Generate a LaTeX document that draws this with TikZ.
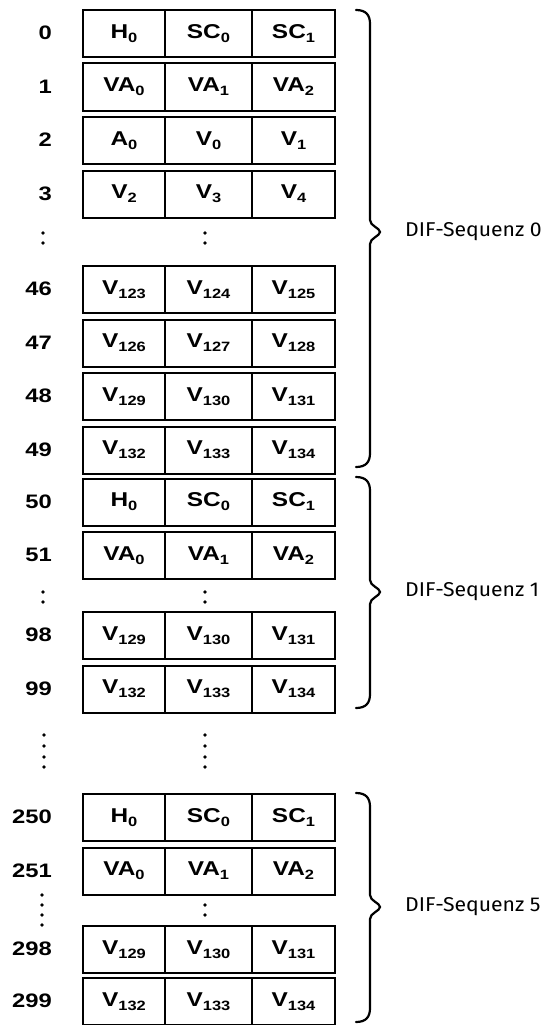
\documentclass[tikz,border=0pt]{standalone}
\usepackage{fontspec}
\newfontfamily\hb{Liberation Sans}[FakeStretch=1.22]
\newfontfamily\dinf{Fira Sans}[FakeStretch=1.06]
\newcommand\sbs[1]{\raisebox{-0.2em}{\fontsize{13.5}{13.5}\selectfont #1}}
\tikzset{
  x=1pt, y=-1pt,
  cellA/.style={draw, line width=2pt, minimum width=82pt, minimum height=47pt, inner sep=0pt, anchor=north west, font=\hb\bfseries\fontsize{20}{20}\selectfont},
  cellB/.style={cellA, minimum width=87pt},
  cellC/.style={cellA, minimum width=83pt},
  rowlbl/.style={anchor=east, inner sep=0pt, font=\hb\bfseries\fontsize{19.5}{19.5}\selectfont},
  seqlbl/.style={anchor=west, inner sep=0pt, font=\dinf\fontsize{20}{20}\selectfont},
  dotc/.style={fill, circle, inner sep=0pt, minimum size=3.8pt},
  bracepath/.style={line width=2.2pt, line cap=round}
}
\begin{document}
\begin{tikzpicture}
\useasboundingbox (0,0) rectangle (552,1025);
% rows: name/top/label/a/b/c
\foreach \n/\t/\l/\a/\b/\c in {
  r0/9/0/{H\sbs{0}}/{SC\sbs{0}}/{SC\sbs{1}},
  r1/62.5/1/{VA\sbs{0}}/{VA\sbs{1}}/{VA\sbs{2}},
  r2/116/2/{A\sbs{0}}/{V\sbs{0}}/{V\sbs{1}},
  r3/169.5/3/{V\sbs{2}}/{V\sbs{3}}/{V\sbs{4}},
  r46/265/46/{V\sbs{123}}/{V\sbs{124}}/{V\sbs{125}},
  r47/318.5/47/{V\sbs{126}}/{V\sbs{127}}/{V\sbs{128}},
  r48/372/48/{V\sbs{129}}/{V\sbs{130}}/{V\sbs{131}},
  r49/425.5/49/{V\sbs{132}}/{V\sbs{133}}/{V\sbs{134}},
  r50/477.5/50/{H\sbs{0}}/{SC\sbs{0}}/{SC\sbs{1}},
  r51/531/51/{VA\sbs{0}}/{VA\sbs{1}}/{VA\sbs{2}},
  r98/611/98/{V\sbs{129}}/{V\sbs{130}}/{V\sbs{131}},
  r99/664.5/99/{V\sbs{132}}/{V\sbs{133}}/{V\sbs{134}},
  r250/793/250/{H\sbs{0}}/{SC\sbs{0}}/{SC\sbs{1}},
  r251/846.5/251/{VA\sbs{0}}/{VA\sbs{1}}/{VA\sbs{2}},
  r298/925/298/{V\sbs{129}}/{V\sbs{130}}/{V\sbs{131}},
  r299/977/299/{V\sbs{132}}/{V\sbs{133}}/{V\sbs{134}}} {
  \node[cellA] (\n a) at (82,\t) {\a};
  \node[cellB] (\n b) at (164,\t) {\b};
  \node[cellC] (\n c) at (251,\t) {\c};
  \node[rowlbl] (\n l) at (52,\t+24) {\l};
}
% vertical dots
\foreach \i/\x/\y in {d1/43/233, d2/43/243, d3/205/233, d4/205/243,
  d5/43/592, d6/43/602, d7/205/592, d8/205/602,
  d9/44/735, d10/44/746, d11/44/757, d12/44/767,
  d13/205/735, d14/205/746, d15/205/757, d16/205/767,
  d17/42/895, d18/42/905, d19/42/915, d20/42/925,
  d21/205/905, d22/205/915}
  \node[dotc] (\i) at (\x,\y) {};
% braces
\foreach \tp/\bt/\tip in {10/467/232, 477/708/592, 793/1022/907} {
  \draw[bracepath] (356,\tp) .. controls (366,\tp) and (370,\tp+5) .. (370,\tp+14)
    -- (370,\tip-12) .. controls (370,\tip-6) and (380,\tip-4) .. (380,\tip)
    .. controls (380,\tip+4) and (370,\tip+6) .. (370,\tip+12)
    -- (370,\bt-14) .. controls (370,\bt-5) and (366,\bt) .. (356,\bt);
}
\node[seqlbl] (s0) at (405,232) {DIF-Sequenz 0};
\node[seqlbl] (s1) at (405,592) {DIF-Sequenz 1};
\node[seqlbl] (s5) at (405,907) {DIF-Sequenz 5};
\end{tikzpicture}
\end{document}
